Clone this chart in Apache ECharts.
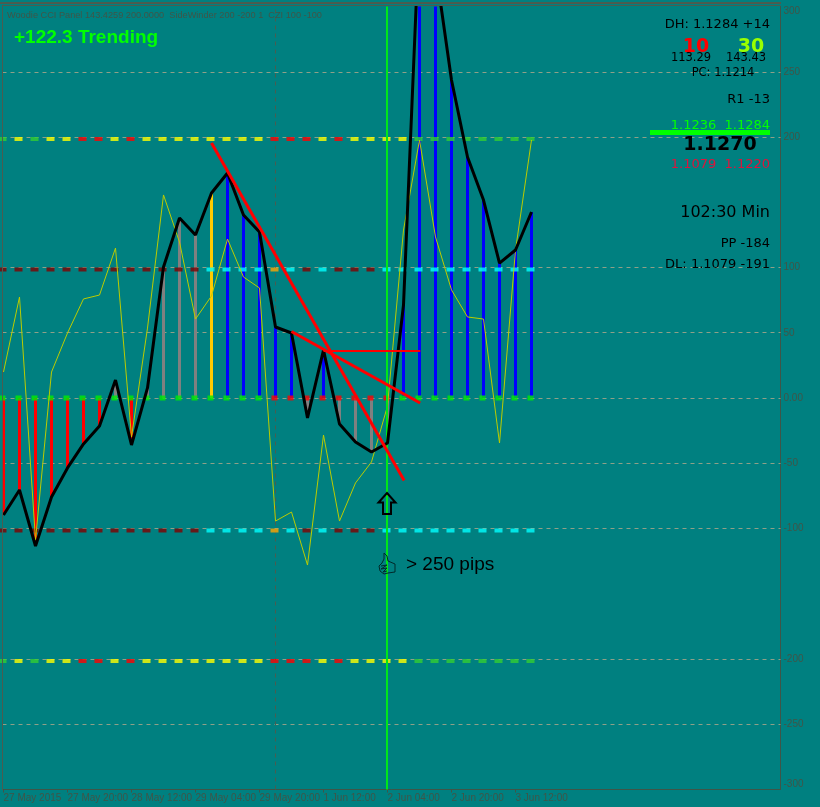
<!DOCTYPE html>
<html><head><meta charset="utf-8">
<style>html,body{margin:0;padding:0;background:#008080}#c{width:820px;height:807px}</style>
<script src="https://cdn.jsdelivr.net/npm/echarts@6/dist/echarts.min.js"></script>
</head><body><div id="c"></div>
<script>
const timeLabels = ['27 May 2015','27 May 20:00','28 May 12:00','29 May 04:00','29 May 20:00','1 Jun 12:00','2 Jun 04:00','2 Jun 20:00','3 Jun 12:00'];
const timeTicks = [0,4,8,12,16,20,24,28,32];
const valueTicks = [300,250,200,100,50,0,-50,-100,-200,-250,-300];
const gridLevels = [250,200,100,50,0,-50,-100,-200,-250];
const cci = [-89.7,-70.5,-113.4,-75.9,-53.6,-35.2,-21.5,13.8,-36,7.7,100.4,137.9,124.9,157.1,172.4,140.2,127.2,54.4,49.8,-15.3,36.8,-19.9,-33.7,-41.4,-34.5,71.3,362,330,243.7,184.7,151.7,103.4,113.4,142.5];
const turbo = [19.9,77.4,-108.8,19.9,49.8,75.9,78.9,114.9,-29.9,53.6,155.6,119.5,60.5,78.2,121.8,92.7,84.3,-94.3,-87.4,-128,-28.4,-94.3,-65.1,-49,-6.1,128.7,197.7,123.4,82.8,62.1,60.5,-34.5,113.4,197.7];
const barColors = 'RRRRRRRARAAAAOBBBBBABAAAABBBBBBBBB'.split('');
const zeroColors = 'GGGGGGGGGGGGGGGGGRRRRRRRRGGGGGGGGG'.split('');
const outerColors = 'LYLYYRRYRYYYYYYYYRRRYRYYYYLLLLLLLL'.split('');
const innerColors = 'DDDDDDDDDDDDDCCCCOCDCDDDCCCCCCCCCC'.split('');
const trendA = [[13,195.4],[25.04,-63.2]];
const trendB = [[18,51],[26.04,-3.8]];
const trendC = [[20,36],[26.05,36]];
const signalBar = 23.97;
const separatorBar = 17;

const palette = {R:'#ff0000',A:'#808080',O:'#ffcc00',B:'#0000ff',G:'#00ee00',Y:'#ffff00',L:'#32cd32',D:'#800000',C:'#00ffff'};
const markerPalette = Object.assign({}, palette, {O:'#ffa500'});
const ink = '#3f5548';
const idx = a => a.map((v,i)=>[i,v]);
const row = (level,cols,w,h,dy) => ({
  type:'scatter', symbol:'rect', symbolSize:[w,h], symbolOffset:[-1,dy], z:5, silent:true,
  data: cols.map((c,i)=>({value:[i,level], itemStyle:{color:markerPalette[c]}}))
});
const hline = {type:[4,4],color:'#8fa088',width:1};
const chart = echarts.init(document.getElementById('c'),null,{renderer:'canvas'});
const T = (x,y,text,o) => ({type:'text',x,y,z:50,silent:true,style:Object.assign({text,fill:'#000',textVerticalAlign:'middle',fontFamily:'"DejaVu Sans"',fontSize:13},o)});
chart.setOption({
  animation:false, backgroundColor:'#008080',
  grid:{left:2.5,top:6.5,width:778,height:783,containLabel:false,show:false,outerBoundsMode:'none'},
  xAxis:{type:'value',min:-0.0625,max:48.5625,
    axisLine:{show:true,onZero:false,lineStyle:{color:ink,width:1}},
    splitLine:{show:false},
    axisTick:{show:true,length:3,customValues:timeTicks,lineStyle:{color:ink}},
    axisLabel:{show:true,customValues:timeTicks,hideOverlap:false,align:'left',margin:4,color:ink,fontSize:10,fontFamily:'"Liberation Sans"',
      formatter:v=>timeLabels[timeTicks.indexOf(v)]||''}},
  yAxis:{type:'value',min:-300,max:300,position:'right',
    axisLine:{show:true,onZero:false,lineStyle:{color:ink,width:1}},
    splitLine:{show:false},
    axisTick:{show:false},
    axisLabel:{show:true,customValues:valueTicks,hideOverlap:false,margin:3,color:ink,fontSize:10,fontFamily:'"Liberation Sans"',
      verticalAlignMaxLabel:'bottom',verticalAlignMinLabel:'top',
      formatter:v=>v===0?'0.00':String(v)}},
  series:[
    {type:'line',silent:true,data:[],z:1,markLine:{z:1,silent:true,symbol:'none',label:{show:false},animation:false,lineStyle:hline,data:gridLevels.map(v=>({yAxis:v}))}},
    {type:'line',silent:true,data:[],z:1,markLine:{z:1,silent:true,symbol:'none',label:{show:false},animation:false,lineStyle:{type:[4,4],color:'#4a5c50',width:1},data:[{xAxis:separatorBar}]}},
    {type:'bar',barWidth:3,silent:true,z:3,data:cci.map((v,i)=>({value:[i,v],itemStyle:{color:palette[barColors[i]]}}))},
    row(200,outerColors,8,4,2), row(-200,outerColors,8,4,2),
    row(100,innerColors,8,4,2), row(-100,innerColors,8,4,2),
    row(0,zeroColors,6,5,0),
    {type:'line',silent:true,z:6,showSymbol:false,symbol:'none',lineStyle:{color:'#bccc00',width:1},data:idx(turbo)},
    {type:'line',silent:true,z:7,data:[],markLine:{z:7,silent:true,symbol:'none',label:{show:false},animation:false,lineStyle:{type:'solid',color:'#00e619',width:2},data:[{xAxis:signalBar}]}},
    {type:'line',silent:true,z:8,showSymbol:false,symbol:'none',lineStyle:{color:'#000',width:3},data:idx(cci)},
    {type:'line',silent:true,z:9,showSymbol:false,symbol:'none',lineStyle:{color:'#ff0000',width:3},data:trendA},
    {type:'line',silent:true,z:9,showSymbol:false,symbol:'none',lineStyle:{color:'#ff0000',width:3},data:trendB},
    {type:'line',silent:true,z:9,showSymbol:false,symbol:'none',lineStyle:{color:'#ff0000',width:2},data:trendC}
  ],
  graphic:[
    {type:'rect',silent:true,z:40,shape:{x:0,y:2,width:781,height:2},style:{fill:'#4a5c50'}},
    {type:'rect',silent:true,z:40,shape:{x:2,y:5,width:778.5,height:1},style:{fill:'#4a5c50'}},
    {type:'rect',silent:true,z:40,shape:{x:2,y:5,width:1,height:785},style:{fill:'#4a5c50'}},
    T(7,15,'Woodie CCI Panel 143.4259 200.0000  SideWinder 200 -200 1  CZI 100 -100',{fill:ink,fontFamily:'"Liberation Sans"',fontSize:9.2}),
    T(14,38,'+122.3 Trending',{fill:'#00ff00',fontFamily:'"Liberation Sans"',fontWeight:'bold',fontSize:19}),
    T(770,25,'DH: 1.1284 +14',{textAlign:'right'}),
    T(696,47,'10',{textAlign:'center',fill:'#ff0000',fontFamily:'"DejaVu Sans"',fontWeight:'bold',fontSize:19}),
    T(751,47,'30',{textAlign:'center',fill:'#99ff00',fontFamily:'"DejaVu Sans"',fontWeight:'bold',fontSize:19}),
    T(691,58,'113.29',{textAlign:'center',fontSize:11.5}),
    T(746,58,'143.43',{textAlign:'center',fontSize:11.5}),
    T(723,73,'PC: 1.1214',{textAlign:'center',fontSize:11.5}),
    T(770,100,'R1 -13',{textAlign:'right'}),
    T(770,126,'1.1236  1.1284',{textAlign:'right',fill:'#00ff00'}),
    {type:'rect',silent:true,z:49,shape:{x:650,y:130,width:120,height:5},style:{fill:'#00ff00'}},
    T(720,145,'1.1270',{textAlign:'center',fontFamily:'"DejaVu Sans"',fontWeight:'bold',fontSize:19}),
    T(770,165,'1.1079  1.1220',{textAlign:'right',fill:'#dc143c'}),
    T(770,213,'102:30 Min',{textAlign:'right',fontSize:16}),
    T(770,244,'PP -184',{textAlign:'right'}),
    T(770,265,'DL: 1.1079 -191',{textAlign:'right'}),
    T(406,565,'> 250 pips',{fontFamily:'"Liberation Sans"',fontSize:19}),
    {type:'polygon',silent:true,z:45,shape:{points:[[387,493],[395.5,502.5],[391,502.5],[391,514],[383,514],[383,502.5],[378.5,502.5]]},style:{fill:'rgba(0,0,0,0)',stroke:'#000',lineWidth:2}},
    {type:'polyline',silent:true,z:45,shape:{points:[[384,553],[387,556],[388,561],[395,564],[395,572],[388,573],[384,574],[380,571],[379,566],[382,563],[384,559],[384,553]]},style:{fill:'rgba(0,0,0,0)',stroke:'#002a2a',lineWidth:1}},
    {type:'polyline',silent:true,z:45,shape:{points:[[381,566],[387,565],[381,569],[387,568],[383,572],[387,571]]},style:{fill:'rgba(0,0,0,0)',stroke:'#002a2a',lineWidth:1}}
  ]
});
</script></body></html>
